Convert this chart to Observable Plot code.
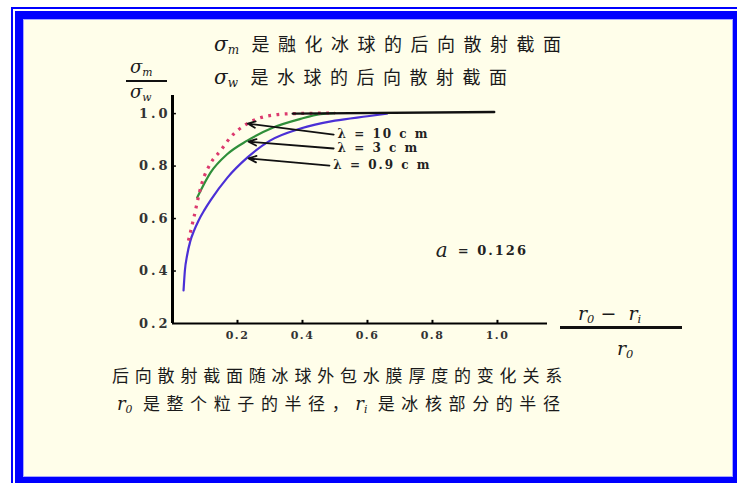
<!DOCTYPE html>
<html>
<head>
<meta charset="utf-8">
<script src="https://cdn.jsdelivr.net/npm/d3@7"></script>
<script src="https://cdn.jsdelivr.net/npm/@observablehq/plot@0.6"></script>
<style>
  html, body { margin: 0; padding: 0; background: #fff; }
  #page { position: relative; width: 737px; height: 483px; overflow: hidden; background: #fff;
          font-family: "Noto Sans CJK SC", sans-serif; color: #1a1a1a; }
  .frame-thin { position: absolute; left: 11px; top: 7px; width: 734px; height: 482px;
                border: 2px solid #0000ff; box-sizing: border-box; }
  .frame-thick { position: absolute; left: 15px; top: 11px; width: 726px; height: 474px;
                 border: 8px solid #0000ff; box-sizing: border-box; background: #fffeea; }
  .frame-inner { position: absolute; left: 23px; top: 19px; width: 710px; height: 458px;
                 border: 1px solid #a8a8ff; box-sizing: border-box; }
  .txt { position: absolute; white-space: nowrap; line-height: 1; }
  .title { font-size: 18px; letter-spacing: 8.5px; }
  .caption { font-size: 17px; letter-spacing: 5.8px; }
  .sym { font-family: "DejaVu Serif", serif; font-style: italic; letter-spacing: 0; }
  .sym sub { font-size: 60%; vertical-align: -0.25em; }
  .bar { position: absolute; background: #111; }
  #chart { position: absolute; left: 0; top: 0; }
  #chart svg [aria-label="y-axis tick label"] text { letter-spacing: 3px; }
  #chart svg [aria-label="x-axis tick label"] text { letter-spacing: 1.5px; }
  #chart svg .lam text { letter-spacing: 2px; }
</style>
</head>
<body>
<div id="page">
  <div class="frame-thin"></div>
  <div class="frame-thick"></div>
  <div class="frame-inner"></div>

  <!-- legend lines at the top -->
  <div class="txt title" style="left:214px; top:34px;"><span class="sym" style="font-size:20px">σ<sub>m</sub></span> 是融化冰球的后向散射截面</div>
  <div class="txt title" style="left:214px; top:67px;"><span class="sym" style="font-size:20px">σ<sub>w</sub></span> 是水球的后向散射截面</div>

  <!-- y-axis label: σm / σw -->
  <div class="txt sym" style="left:130px; top:58px; font-size:18px;">σ<sub>m</sub></div>
  <div class="bar" style="left:126px; top:80px; width:41px; height:2px;"></div>
  <div class="txt sym" style="left:130px; top:83px; font-size:18px;">σ<sub>w</sub></div>

  <!-- x-axis label: (r0 - ri) / r0 -->
  <div class="txt sym" style="left:578px; top:304px; font-size:19px;">r<sub>0</sub> −&nbsp;&nbsp;r<sub>i</sub></div>
  <div class="bar" style="left:560px; top:326px; width:122px; height:3px;"></div>
  <div class="txt sym" style="left:617px; top:339px; font-size:19px;">r<sub>0</sub></div>

  <!-- caption -->
  <div class="txt caption" style="left:112px; top:366px;">后向散射截面随冰球外包水膜厚度的变化关系</div>
  <div class="txt caption" style="left:117px; top:394px; letter-spacing:6.6px;"><span class="sym" style="font-size:18px">r<sub>0</sub></span> 是整个粒子的半径，<span class="sym" style="font-size:18px">r<sub>i</sub></span> 是冰核部分的半径</div>

  <div id="chart"></div>
</div>
<script>
// Relative ice-shell thickness (r0 - ri) / r0 and the ratio σm / σw for each wavelength
const x10 = [0.049, 0.065, 0.090, 0.117, 0.148, 0.178, 0.230, 0.290, 0.370, 0.500];
const y10 = [0.516, 0.600, 0.733, 0.810, 0.859, 0.909, 0.962, 0.990, 1.000, 1.002];

const x3 = [0.076, 0.117, 0.169, 0.230, 0.310, 0.394, 0.455, 0.500];
const y3 = [0.680, 0.775, 0.846, 0.897, 0.947, 0.980, 0.998, 1.002];

const x09 = [0.034, 0.038, 0.045, 0.055, 0.066, 0.080, 0.098, 0.117, 0.169, 0.230, 0.300, 0.394, 0.500, 0.600, 0.660];
const y09 = [0.326, 0.400, 0.460, 0.515, 0.553, 0.592, 0.632, 0.669, 0.756, 0.832, 0.897, 0.943, 0.973, 0.990, 1.000];

// common asymptote σm / σw = 1
const xFlat = [0.370, 0.990];
const yFlat = [1.000, 1.006];

// wavelength labels and the points their arrows touch
const lamText = ["λ = 10 c m", "λ = 3 c m", "λ = 0.9 c m"];
const lamX = [0.508, 0.508, 0.495];
const lamY = [0.920, 0.867, 0.802];
const tipX = [0.231, 0.234, 0.234];
const tipY = [0.962, 0.893, 0.829];

const xTicks = [0.2, 0.4, 0.6, 0.8, 1.0];
const yTicks = [0.2, 0.4, 0.6, 0.8, 1.0];

const alphaText = "= 0.126";

const toPts = (xs, ys) => xs.map((x, i) => ({x, y: ys[i]}));
const pts10 = toPts(x10, y10);
const pts3 = toPts(x3, y3);
const pts09 = toPts(x09, y09);
const flat = toPts(xFlat, yFlat);
const lams = lamText.map((t, i) => ({t, x1: lamX[i] - 0.012, y1: lamY[i], x2: tipX[i], y2: tipY[i], lx: lamX[i]}));

const xMin = 0, xMax = 1.154, yMin = 0.2, yMax = 1.069;
const numFont = "DejaVu Serif, serif";

const chart = Plot.plot({
  width: 737,
  height: 483,
  marginLeft: 172,
  marginRight: 190,
  marginTop: 95,
  marginBottom: 160,
  style: {background: "transparent", overflow: "visible", color: "#222"},
  x: {domain: [xMin, xMax]},
  y: {domain: [yMin, yMax]},
  marks: [
    Plot.line(pts09, {x: "x", y: "y", curve: "monotone-x", stroke: "#4b30d6", strokeWidth: 2.2}),
    Plot.line(pts3, {x: "x", y: "y", curve: "monotone-x", stroke: "#2f8f3a", strokeWidth: 2.2}),
    Plot.line(pts10, {x: "x", y: "y", curve: "monotone-x", stroke: "#dc3a6e", strokeWidth: 3.2,
                      strokeDasharray: "2.8 5.5", strokeLinecap: "butt"}),
    Plot.line(flat, {x: "x", y: "y", stroke: "#111", strokeWidth: 2.4}),
    Plot.arrow(lams, {x1: "x1", y1: "y1", x2: "x2", y2: "y2", stroke: "#111", strokeWidth: 1.8,
                      headLength: 7, headAngle: 45, bend: 0}),
    Plot.text(lams, {x: "lx", y: "y1", text: "t", textAnchor: "start", fontSize: 12, fontWeight: "bold",
                     fontFamily: "DejaVu Serif, serif", fill: "#222", className: "lam"}),
    Plot.text([{x: 0.81, y: 0.478}], {x: "x", y: "y", text: () => "a", textAnchor: "start", fontSize: 20,
                     fontStyle: "italic", fontFamily: "DejaVu Serif, serif", fill: "#222"}),
    Plot.text([{x: 0.878, y: 0.478, t: alphaText}], {x: "x", y: "y", text: "t", textAnchor: "start", fontSize: 13,
                     fontWeight: "bold", fontFamily: "DejaVu Serif, serif", fill: "#222", className: "lam"}),
    // axes
    Plot.ruleX([xMin], {y1: yMin, y2: yMax, stroke: "#000", strokeWidth: 3}),
    Plot.ruleY([yMin], {x1: xMin, x2: xMax, stroke: "#000", strokeWidth: 2}),
    Plot.ruleX(xTicks, {x: d => d, y1: yMin, y2: yMin + 0.012, stroke: "#000", strokeWidth: 2}),
    Plot.ruleY(yTicks.slice(1), {y: d => d, x1: xMin, x2: xMin + 0.012, stroke: "#000", strokeWidth: 1.5}),
    Plot.axisY({ticks: yTicks, tickSize: 0, tickPadding: 2, tickFormat: d3.format(".1f"), label: null,
                fontSize: 13, fontWeight: "bold", fontFamily: numFont, fill: "#333"}),
    Plot.axisX({ticks: xTicks, tickSize: 0, tickPadding: 8, tickFormat: d3.format(".1f"), label: null,
                fontSize: 11, fontWeight: "bold", fontFamily: numFont, fill: "#333"})
  ]
});
document.getElementById("chart").appendChild(chart);
</script>
</body>
</html>
